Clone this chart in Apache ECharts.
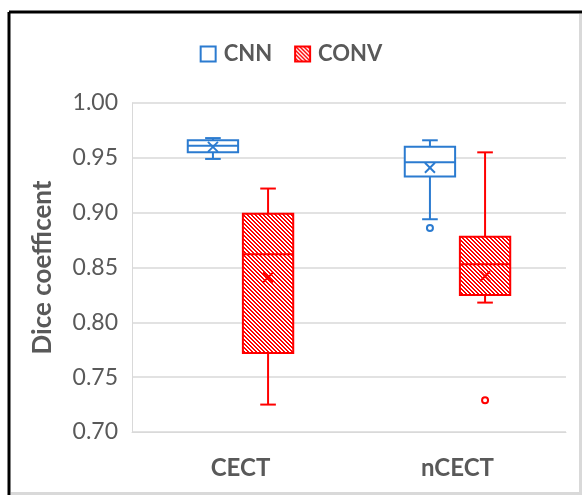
<!DOCTYPE html>
<html><head><meta charset="utf-8">
<script src="https://cdn.jsdelivr.net/npm/echarts@6/dist/echarts.min.js"></script>
<style>html,body{margin:0;padding:0;background:#fff}#c{width:582px;height:495px}</style>
</head><body><div id="c"></div>
<script>
// ---- data ----
const categories = ['CECT', 'nCECT'];
const seriesNames = ['CNN', 'CONV'];
// each row: [min, q1, median, q3, max]
const cnnBox = [[0.949, 0.955, 0.961, 0.966, 0.968], [0.894, 0.933, 0.946, 0.960, 0.966]];
const cnnMean = [0.960, 0.941];
const cnnOutliers = [[1, 0.886]];
const convBox = [[0.725, 0.772, 0.862, 0.899, 0.922], [0.818, 0.825, 0.853, 0.878, 0.955]];
const convMean = [0.841, 0.842];
const convOutliers = [[1, 0.729]];
const yMin = 0.70, yMax = 1.00, yStep = 0.05;

// ---- styles ----
const BLUE = '#2b7bd0';
const RED = '#ff0000';
const GREY = '#595959';
const FONT = 'Lato';

function hatch() {
  const c = document.createElement('canvas');
  c.width = 4; c.height = 4;
  const g = c.getContext('2d');
  g.fillStyle = '#ffffff'; g.fillRect(0, 0, 4, 4);
  g.fillStyle = RED;
  for (let i = 0; i < 4; i++) { g.fillRect(i, i, 1, 1); g.fillRect((i + 1) % 4, i, 1, 1); }
  return c;
}
const pattern = { image: hatch(), repeat: 'repeat' };

const OFFSET = 0.127, BOXW = 0.232, CAPW = 0.072, XS = 5;

function boxRender(side, color, fill) {
  return function (params, api) {
    const cat = api.value(0);
    const band = api.size([1, 0])[0];
    const cx = api.coord([cat, yMin])[0] + side * OFFSET * band;
    const w = BOXW * band, cw = CAPW * band;
    const y = i => api.coord([cat, api.value(i)])[1];
    const pMin = y(1), pQ1 = y(2), pMed = y(3), pQ3 = y(4), pMax = y(5), pMean = y(6);
    const ls = { stroke: color, lineWidth: 2, fill: null };
    const line = (x1, y1, x2, y2) => ({ type: 'line', shape: { x1, y1, x2, y2 }, style: ls });
    return {
      type: 'group',
      children: [
        line(cx, pMax, cx, pQ3),
        line(cx, pQ1, cx, pMin),
        line(cx - cw / 2, pMax, cx + cw / 2, pMax),
        line(cx - cw / 2, pMin, cx + cw / 2, pMin),
        { type: 'rect', shape: { x: cx - w / 2, y: pQ3, width: w, height: pQ1 - pQ3 }, style: { stroke: color, lineWidth: 2, fill: fill } },
        line(cx - w / 2, pMed, cx + w / 2, pMed),
        line(cx - XS, pMean - XS, cx + XS, pMean + XS),
        line(cx - XS, pMean + XS, cx + XS, pMean - XS)
      ]
    };
  };
}
function outlierRender(side, color) {
  return function (params, api) {
    const cat = api.value(0);
    const band = api.size([1, 0])[0];
    const p = api.coord([cat, api.value(1)]);
    return { type: 'circle', shape: { cx: p[0] + side * OFFSET * band, cy: p[1], r: 3 }, style: { stroke: color, lineWidth: 2, fill: '#fff' } };
  };
}
const rows = (box, mean) => box.map((b, i) => [i].concat(b, [mean[i]]));

const chart = echarts.init(document.getElementById('c'), null, { renderer: 'canvas' });
chart.setOption({
  animation: false,
  backgroundColor: '#fff',
  grid: { left: 132, right: 16, top: 103, bottom: 63 },
  legend: {
    top: 38, left: 'center', itemWidth: 15, itemHeight: 15, itemGap: 22,
    textStyle: { fontFamily: FONT, fontWeight: 'bold', fontSize: 22, color: GREY, padding: [0, 0, 0, 3] },
    data: [
      { name: seriesNames[0], icon: 'rect', itemStyle: { color: '#fff', borderColor: BLUE, borderWidth: 2 } },
      { name: seriesNames[1], icon: 'rect', itemStyle: { color: pattern, borderColor: RED, borderWidth: 2 } }
    ]
  },
  xAxis: {
    type: 'category', data: categories,
    axisLine: { lineStyle: { color: '#d9d9d9' } }, axisTick: { show: false },
    axisLabel: { fontFamily: FONT, fontWeight: 'bold', fontSize: 24, color: GREY, margin: 24 }
  },
  yAxis: {
    type: 'value', min: yMin, max: yMax, interval: yStep,
    name: 'Dice coefficent', nameLocation: 'middle', nameGap: 76, nameRotate: 90,
    nameTextStyle: { fontFamily: FONT, fontWeight: 'bold', fontSize: 26, color: GREY },
    axisLine: { show: true, lineStyle: { color: '#d9d9d9' } }, axisTick: { show: false },
    splitLine: { lineStyle: { color: '#d9d9d9', width: 1.5 } },
    axisLabel: { fontFamily: FONT, fontSize: 23, color: GREY, margin: 14, formatter: v => v.toFixed(2) }
  },
  graphic: [
    { type: 'line', shape: { x1: 9, y1: 12, x2: 582, y2: 12 }, style: { stroke: '#000', lineWidth: 3 }, z: 100 },
    { type: 'line', shape: { x1: 9, y1: 12, x2: 9, y2: 495 }, style: { stroke: '#000', lineWidth: 3 }, z: 100 },
    { type: 'line', shape: { x1: 580.5, y1: 14, x2: 580.5, y2: 495 }, style: { stroke: '#d9d9d9', lineWidth: 3 }, z: 100 },
    { type: 'line', shape: { x1: 11, y1: 493.5, x2: 582, y2: 493.5 }, style: { stroke: '#d9d9d9', lineWidth: 3 }, z: 100 }
  ],
  series: [
    { name: seriesNames[0], type: 'custom', silent: true, itemStyle: { color: BLUE }, renderItem: boxRender(-1, BLUE, '#fff'), data: rows(cnnBox, cnnMean), z: 3 },
    { name: seriesNames[1], type: 'custom', silent: true, itemStyle: { color: RED }, renderItem: boxRender(1, RED, pattern), data: rows(convBox, convMean), z: 3 },
    { name: seriesNames[0], type: 'custom', silent: true, renderItem: outlierRender(-1, BLUE), data: cnnOutliers, z: 4 },
    { name: seriesNames[1], type: 'custom', silent: true, renderItem: outlierRender(1, RED), data: convOutliers, z: 4 }
  ]
});
</script></body></html>
